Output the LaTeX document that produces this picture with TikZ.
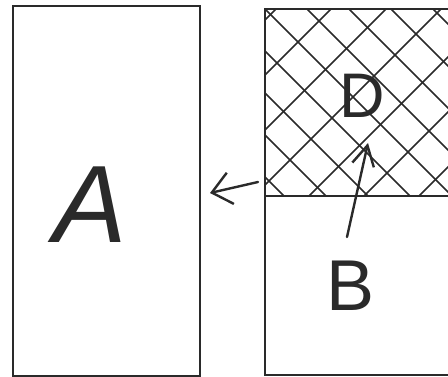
\documentclass[tikz,border=0pt]{standalone}
\usepackage{fontspec}
\setmainfont{Liberation Sans}
\usetikzlibrary{arrows.meta}
\definecolor{ink}{HTML}{2A2A2A}
\begin{document}
\begin{tikzpicture}[x=1pt,y=-1pt,
  box/.style={draw=ink,line width=1.8pt,inner sep=0pt,outer sep=0pt,anchor=north west},
  hatchline/.style={draw=ink,line width=1.5pt},
  pen/.style={draw=ink,line width=2.4pt,line cap=round,line join=round,
    -{Straight Barb[length=19pt,width=32pt,line width=2.4pt]}},
  lbl/.style={text=ink,inner sep=0pt}]
\useasboundingbox (0,0) rectangle (448,377);
% left box
\node[box,minimum width=187pt,minimum height=370pt] (boxA) at (13,6) {};
% right box hatch
\begin{scope}
  \clip (265,9) rectangle (455,196);
  \foreach \s in {285,340,395,450,505,560,615,670}
    \draw[hatchline] (\s,0) -- (\s-220,220);
  \foreach \t in {-424,-382,-340,-298,-256,-214,-172,-130,-88,-46}
    \draw[hatchline] (240,240+\t) -- (470,470+\t);
\end{scope}
\node[box,minimum width=190pt,minimum height=366pt] (boxR) at (265,9) {};
\coordinate (divL) at (265,196);
\coordinate (divR) at (455,196);
\draw[ink,line width=1.8pt] (divL) -- (divR);
% labels
\node[lbl,font=\itshape\fontsize{110}{110}\selectfont] (A) at (90,205) {A};
\node[lbl,font=\fontsize{72}{72}\selectfont] (B) at (351,286) {B};
\node[lbl,font=\fontsize{63}{63}\selectfont] (D) at (362,96) {D};
% arrows
\coordinate (leftTail) at (258,182);
\coordinate (leftTip) at (210,193);
\draw[pen] (leftTail) -- (leftTip);
\coordinate (upTail) at (347,237);
\coordinate (upTip) at (368,143);
\draw[pen,-{Straight Barb[length=20pt,width=22pt,line width=2.4pt]}] (upTail) -- (upTip);
\end{tikzpicture}
\end{document}
